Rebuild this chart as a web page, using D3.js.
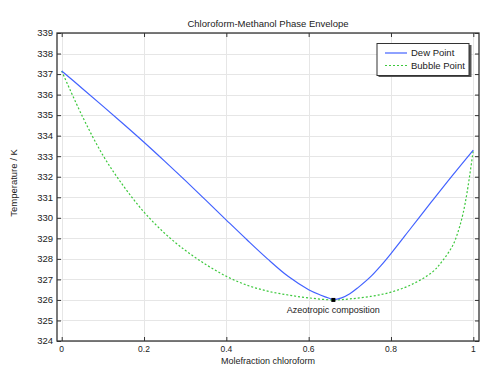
<!DOCTYPE html>
<html>
<head>
<meta charset="utf-8">
<script src="https://cdn.jsdelivr.net/npm/d3@7"></script>
<style>
  body { margin: 0; background: #fff; }
  text { font-family: "Liberation Sans", Arial, sans-serif; fill: #222; }
</style>
</head>
<body>
<div id="chart-container"></div>
<script>
// Dew point curve (vapour)
const dewX = [0, 0.05, 0.1, 0.15, 0.2, 0.25, 0.3, 0.35, 0.4, 0.45, 0.5, 0.55, 0.6, 0.63, 0.65, 0.66, 0.68, 0.7, 0.72, 0.75, 0.775, 0.8, 0.85, 0.9, 0.95, 1];
const dewT = [337.15, 336.3, 335.44, 334.57, 333.68, 332.76, 331.82, 330.86, 329.89, 328.93, 328.0, 327.15, 326.5, 326.23, 326.08, 326.02, 326.1, 326.3, 326.6, 327.12, 327.66, 328.26, 329.54, 330.82, 332.08, 333.3];

// Bubble point curve (liquid)
const bubbleX = [0, 0.05, 0.1, 0.15, 0.2, 0.25, 0.3, 0.35, 0.4, 0.45, 0.5, 0.55, 0.6, 0.66, 0.7, 0.75, 0.8, 0.85, 0.9, 0.925, 0.95, 0.965, 0.975, 0.985, 1];
const bubbleT = [337.15, 334.95, 333.05, 331.55, 330.28, 329.25, 328.42, 327.73, 327.15, 326.72, 326.43, 326.24, 326.1, 326.0, 326.05, 326.17, 326.38, 326.75, 327.35, 327.9, 328.65, 329.45, 330.2, 331.25, 333.3];

const azeotrope = { x: 0.66, t: 326.0, label: "Azeotropic composition" };

const xTicks = [0, 0.2, 0.4, 0.6, 0.8, 1];
const yTicks = d3.range(324, 340, 1);
const seriesNames = ["Dew Point", "Bubble Point"];

const W = 492, H = 370;
const frame = { left: 57, right: 479, top: 33, bottom: 341 };

const svg = d3.select("#chart-container")
  .append("svg")
  .attr("width", W)
  .attr("height", H);

const x = d3.scaleLinear().domain([0, 1]).range([61.7, 473.3]);
const y = d3.scaleLinear().domain([324, 339]).range([frame.bottom, frame.top]);

// grid
const grid = svg.append("g").attr("stroke", "#e6e6e6").attr("stroke-width", 1);
xTicks.forEach(v => {
  grid.append("line")
    .attr("x1", Math.round(x(v)) + 0.5).attr("x2", Math.round(x(v)) + 0.5)
    .attr("y1", frame.top).attr("y2", frame.bottom);
});
yTicks.forEach(v => {
  grid.append("line")
    .attr("x1", frame.left).attr("x2", frame.right)
    .attr("y1", Math.round(y(v)) + 0.5).attr("y2", Math.round(y(v)) + 0.5);
});

// curves
const line = d3.line().x(d => x(d[0])).y(d => y(d[1])).curve(d3.curveCatmullRom.alpha(0.5));

svg.append("path")
  .datum(bubbleX.map((v, i) => [v, bubbleT[i]]))
  .attr("fill", "none")
  .attr("stroke", "#3cc83c")
  .attr("stroke-width", 1.2)
  .attr("stroke-dasharray", "2,2")
  .attr("d", line);

svg.append("path")
  .datum(dewX.map((v, i) => [v, dewT[i]]))
  .attr("fill", "none")
  .attr("stroke", "#4262ff")
  .attr("stroke-width", 1.2)
  .attr("d", line);

// azeotrope marker
svg.append("rect")
  .attr("x", x(azeotrope.x) - 2)
  .attr("y", y(azeotrope.t) - 2)
  .attr("width", 4)
  .attr("height", 4)
  .attr("fill", "#000");

svg.append("text")
  .attr("x", x(azeotrope.x))
  .attr("y", y(azeotrope.t) + 13)
  .attr("text-anchor", "middle")
  .style("font-size", "9px")
  .text(azeotrope.label);

// axes: inward ticks on all four sides
const axisColor = "#333";
svg.append("g")
  .attr("transform", `translate(${frame.left},0)`)
  .call(d3.axisRight(y).tickValues(yTicks).tickSize(4).tickFormat(""))
  .call(g => g.select(".domain").remove())
  .call(g => g.selectAll("line").attr("stroke", axisColor));
svg.append("g")
  .attr("transform", `translate(${frame.right},0)`)
  .call(d3.axisLeft(y).tickValues(yTicks).tickSize(4).tickFormat(""))
  .call(g => g.select(".domain").remove())
  .call(g => g.selectAll("line").attr("stroke", axisColor));
svg.append("g")
  .attr("transform", `translate(0,${frame.bottom})`)
  .call(d3.axisTop(x).tickValues(xTicks).tickSize(4).tickFormat(""))
  .call(g => g.select(".domain").remove())
  .call(g => g.selectAll("line").attr("stroke", axisColor));
svg.append("g")
  .attr("transform", `translate(0,${frame.top})`)
  .call(d3.axisBottom(x).tickValues(xTicks).tickSize(4).tickFormat(""))
  .call(g => g.select(".domain").remove())
  .call(g => g.selectAll("line").attr("stroke", axisColor));

// tick labels
svg.append("g").selectAll("text")
  .data(yTicks)
  .enter().append("text")
  .attr("x", frame.left - 4)
  .attr("y", d => y(d))
  .attr("dy", "0.35em")
  .attr("text-anchor", "end")
  .style("font-size", "9.5px")
  .text(d => d);

svg.append("g").selectAll("text")
  .data(xTicks)
  .enter().append("text")
  .attr("x", d => x(d))
  .attr("y", 352)
  .attr("text-anchor", "middle")
  .style("font-size", "8.5px")
  .text(d => d);

// frame
svg.append("rect")
  .attr("x", frame.left)
  .attr("y", frame.top)
  .attr("width", frame.right - frame.left)
  .attr("height", frame.bottom - frame.top)
  .attr("fill", "none")
  .attr("stroke", axisColor)
  .attr("stroke-width", 1.3);

// titles
svg.append("text")
  .attr("x", (frame.left + frame.right) / 2)
  .attr("y", 27)
  .attr("text-anchor", "middle")
  .style("font-size", "9.5px")
  .text("Chloroform-Methanol Phase Envelope");

svg.append("text")
  .attr("x", (frame.left + frame.right) / 2)
  .attr("y", 363.5)
  .attr("text-anchor", "middle")
  .style("font-size", "9px")
  .text("Molefraction chloroform");

svg.append("text")
  .attr("transform", "rotate(-90)")
  .attr("x", -183)
  .attr("y", 17)
  .attr("text-anchor", "middle")
  .style("font-size", "9.5px")
  .text("Temperature / K");

// legend
const legend = svg.append("g").attr("transform", "translate(377,43.5)");
legend.append("rect")
  .attr("x", 1.5).attr("y", 1.5)
  .attr("width", 93).attr("height", 32)
  .attr("fill", "#555");
legend.append("rect")
  .attr("width", 92).attr("height", 32)
  .attr("fill", "#fff")
  .attr("stroke", "#333")
  .attr("stroke-width", 1);

const legendStyles = [
  { color: "#4262ff", dash: null },
  { color: "#3cc83c", dash: "2,2" }
];
seriesNames.forEach((name, i) => {
  const row = legend.append("g").attr("transform", `translate(0,${9.5 + i * 12.5})`);
  row.append("line")
    .attr("x1", 8).attr("x2", 30)
    .attr("stroke", legendStyles[i].color)
    .attr("stroke-width", 1.2)
    .attr("stroke-dasharray", legendStyles[i].dash);
  row.append("text")
    .attr("x", 34)
    .attr("dy", "0.35em")
    .style("font-size", "9.5px")
    .text(name);
});
</script>
</body>
</html>
